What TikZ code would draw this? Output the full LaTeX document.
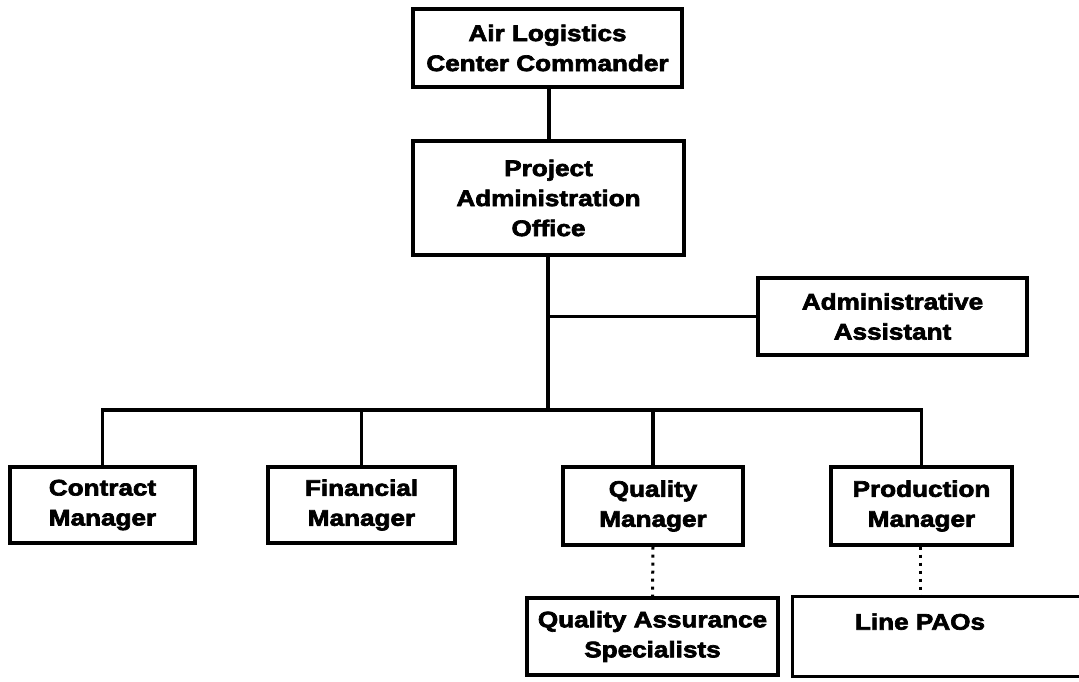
\documentclass[tikz,border=0pt]{standalone}
\usepackage{fontspec}
\newfontfamily\lblfont{Liberation Sans}[FakeStretch=1.16, FakeBold=3]
\begin{document}
\begin{tikzpicture}[x=1pt,y=-1pt,
  box/.style={draw, line width=3.2pt, rectangle, inner sep=0pt, align=center,
    font=\lblfont\bfseries\fontsize{22.5}{30}\selectfont},
  conn/.style={line width=3.2pt},
  dotconn/.style={line width=3pt, dash pattern=on 3pt off 5pt}]
\useasboundingbox (0,0) rectangle (1079,681);
\clip (0,0) rectangle (1079,681);
\node[box, minimum width=269pt, minimum height=78pt] (alc) at (547.5,48) {Air Logistics\\Center Commander};
\node[box, minimum width=271pt, minimum height=114pt] (pao) at (548.5,198) {Project\\Administration\\Office};
\node[box, minimum width=269pt, minimum height=77pt] (adm) at (892.5,316.5) {Administrative\\Assistant};
\node[box, minimum width=185pt, minimum height=76pt] (con) at (102.5,505) {Contract\\Manager};
\node[box, minimum width=187pt, minimum height=76pt] (fin) at (361.5,505) {Financial\\Manager};
\node[box, minimum width=180pt, minimum height=78pt] (qm) at (653,506) {Quality\\Manager};
\node[box, minimum width=181pt, minimum height=78pt] (pm) at (921.5,506) {Production\\Manager};
\node[box, minimum width=251pt, minimum height=77pt] (qas) at (652.5,636.5) {Quality Assurance\\Specialists};
\node[box, draw=none, minimum width=252pt, minimum height=77pt] (lpao) at (920,636.5) {Line PAOs\\\mbox{}};
\draw[conn] ([xshift=320pt]lpao.north west) -- (lpao.north west) -- (lpao.south west) -- ([xshift=320pt]lpao.south west);
\coordinate (bus) at (548,410);
\coordinate (tee) at (548,316.5);
\draw[conn] (alc.south -| 549,0) -- (pao.north -| 549,0);
\draw[conn] (pao.south -| bus) -- (bus);
\draw[conn] (tee) -- (adm.west);
\draw[conn] (pm.north) |- (bus) -| (con.north);
\draw[conn] (bus) -| (fin.north);
\draw[conn] (bus) -| (qm.north);
\draw[dotconn] (qm.south) -- (qas.north);
\draw[dotconn] (pm.south -| lpao.north) -- (lpao.north);
\end{tikzpicture}
\end{document}
